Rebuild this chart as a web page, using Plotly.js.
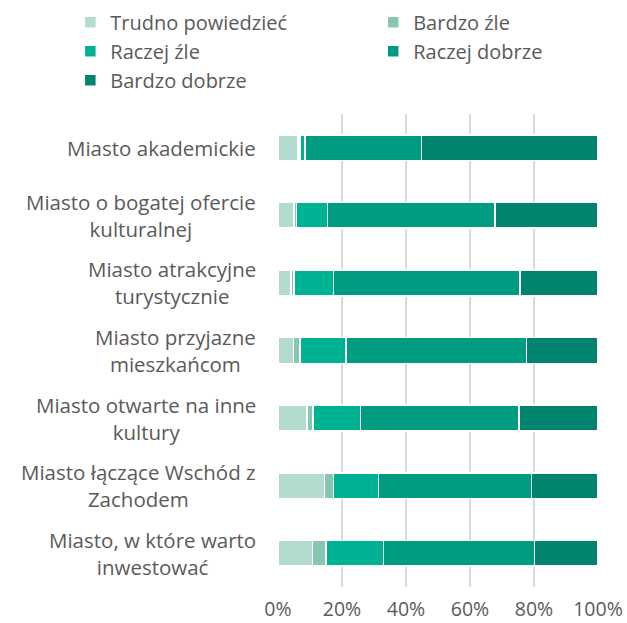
<!DOCTYPE html>
<html>
<head>
<meta charset="utf-8">
<script src="https://cdn.plot.ly/plotly-3.0.1.min.js"></script>
<style>html,body{margin:0;padding:0;background:#fff;}#chart{width:627px;height:623px;}</style>
</head>
<body>
<div id="chart"></div>
<script>
var categories = [
  "Miasto akademickie",
  "Miasto o bogatej ofercie<br>kulturalnej",
  "Miasto atrakcyjne<br>turystycznie",
  "Miasto przyjazne<br>mieszkańcom",
  "Miasto otwarte na inne<br>kultury",
  "Miasto łączące Wschód z<br>Zachodem",
  "Miasto, w które warto<br>inwestować"
];
var seriesNames = ["Trudno powiedzieć", "Bardzo źle", "Raczej źle", "Raczej dobrze", "Bardzo dobrze"];
var trudno       = [6.3, 5.0, 4.0, 4.8, 9.1, 14.6, 10.8];
var bardzoZle    = [0.6, 0.8, 1.0, 2.1, 1.9, 2.7, 4.2];
var raczejZle    = [1.6, 9.6, 12.3, 14.3, 14.8, 14.1, 18.0];
var raczejDobrze = [36.3, 52.4, 58.4, 56.5, 49.5, 47.8, 47.1];
var bardzoDobrze = [55.2, 32.2, 24.3, 22.3, 24.7, 20.8, 19.9];
var tickVals = [0, 20, 40, 60, 80, 100];
var tickText = ["0%", "20%", "40%", "60%", "80%", "100%"];

var colors = ["#b4dbcf", "#87c6b2", "#00b294", "#009c82", "#00846d"];
var legendOf = ["legend", "legend2", "legend", "legend2", "legend"];
var values = [trudno, bardzoZle, raczejZle, raczejDobrze, bardzoDobrze];

var FONT = "'Open Sans', Lato, sans-serif";
var TXT = "#5a5a5a";

var traces = values.map(function (v, i) {
  return {
    type: "bar",
    orientation: "h",
    name: seriesNames[i],
    x: v,
    y: categories,
    legend: legendOf[i],
    marker: { color: colors[i], line: { color: "#ffffff", width: 1.5 } },
    hoverinfo: "x+name"
  };
});

var annotations = categories.map(function (c) {
  return {
    xref: "paper", yref: "y", x: 0, y: c,
    xanchor: "right", yanchor: "middle", xshift: -20,
    align: "center", showarrow: false, text: c,
    font: { family: FONT, size: 20.5, color: TXT }
  };
});

var layout = {
  width: 627, height: 623,
  margin: { l: 278, r: 29, t: 114, b: 36, pad: 0, autoexpand: false },
  paper_bgcolor: "#ffffff", plot_bgcolor: "#ffffff",
  barmode: "stack",
  bargap: 0.62,
  showlegend: true,
  font: { family: FONT, size: 19, color: TXT },
  legend: {
    x: -0.649, xref: "paper", xanchor: "left", y: 1.235, yanchor: "top",
    orientation: "v", traceorder: "normal",
    font: { family: FONT, size: 20, color: TXT },
    bgcolor: "rgba(0,0,0,0)", tracegroupgap: 0, itemclick: false
  },
  legend2: {
    x: 0.2975, xref: "paper", xanchor: "left", y: 1.235, yanchor: "top",
    orientation: "v", traceorder: "normal",
    font: { family: FONT, size: 20, color: TXT },
    bgcolor: "rgba(0,0,0,0)", tracegroupgap: 0, itemclick: false
  },
  xaxis: {
    range: [0, 100], tickvals: tickVals, ticktext: tickText,
    showgrid: true, gridcolor: "#d9d9d9", gridwidth: 2,
    zeroline: false, showline: false, ticks: "",
    ticklabelstandoff: 8,
    tickfont: { family: FONT, size: 19.5, color: TXT },
    fixedrange: true
  },
  yaxis: {
    type: "category", autorange: "reversed",
    showticklabels: false, showgrid: false, zeroline: false,
    showline: false, ticks: "", fixedrange: true
  },
  annotations: annotations
};

Plotly.newPlot("chart", traces, layout, { displayModeBar: false, staticPlot: true });
</script>
</body>
</html>
